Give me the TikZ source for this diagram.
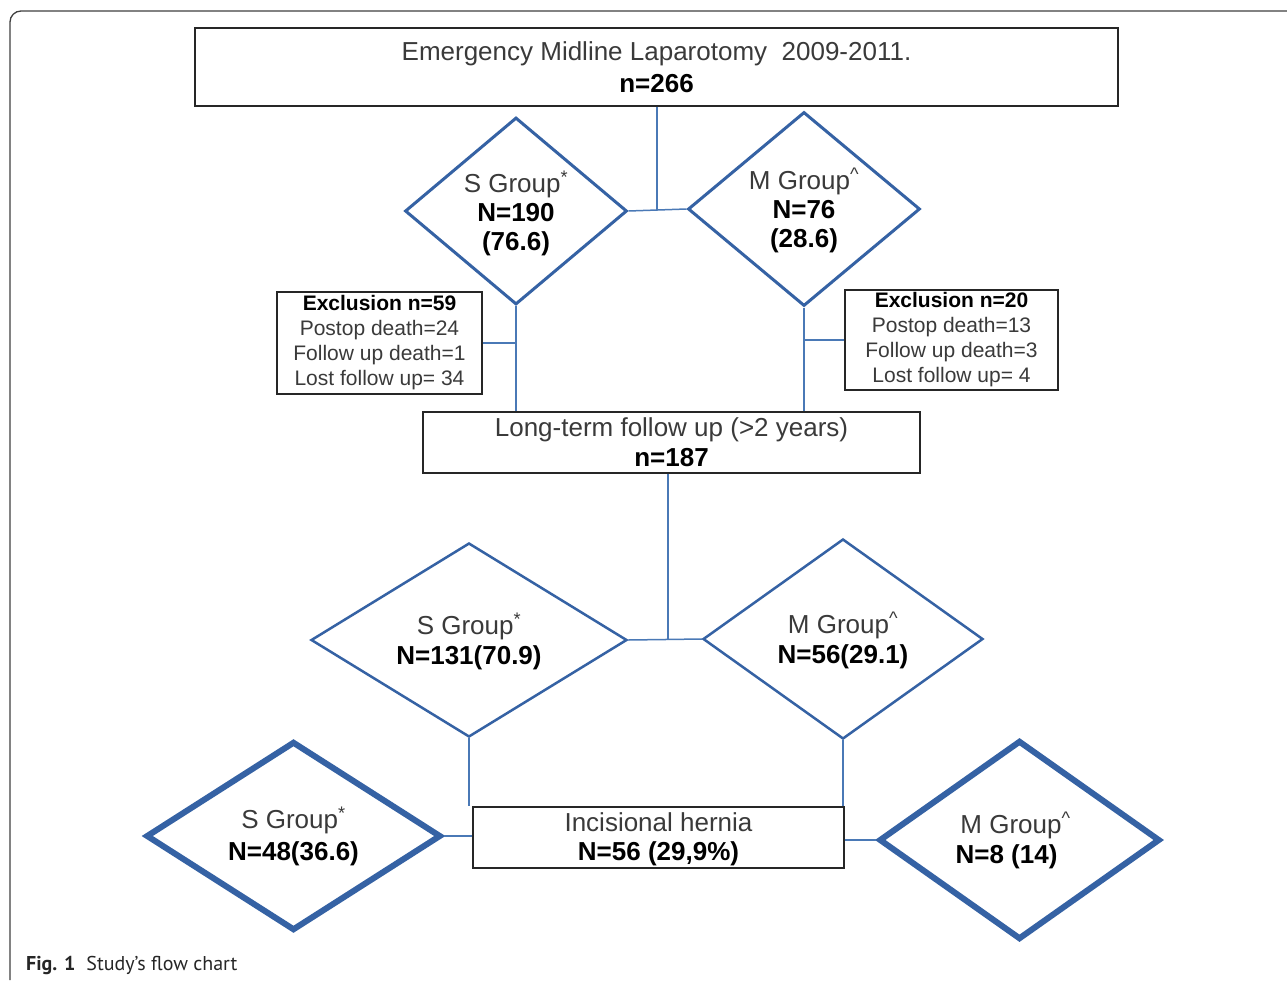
\documentclass[tikz,border=0pt]{standalone}
\usepackage{fontspec}
\setmainfont{Liberation Sans}
\newfontfamily\capfont{PT Sans}
\usetikzlibrary{shapes.geometric}
\definecolor{dblue}{HTML}{3562A4}
\definecolor{cblue}{HTML}{4A79B6}
\definecolor{tgray}{HTML}{3A3A3A}
\begin{document}
\begin{tikzpicture}[x=1pt,y=-1pt,
  box/.style={draw=black!85, line width=1.4pt, fill=white, inner sep=0pt, align=center, text=tgray},
  dia/.style={diamond, draw=dblue, inner sep=0pt, align=center, text=tgray},
  conn/.style={draw=cblue, line width=1.5pt},
  big/.style={font=\fontsize{26}{30}\selectfont},
  small/.style={font=\fontsize{21}{25}\selectfont},
  frame/.style={draw=black!75, line width=1.3pt, rounded corners=11pt}]
\useasboundingbox (0,0) rectangle (1287,980);
\fill[white] (0,0) rectangle (1287,980);
\draw[frame] (10,980) -- (10,11) -- (1287,11);

% boxes
\node[box, minimum width=923pt, minimum height=78pt, font=\fontsize{26}{32}\selectfont] (top) at (656.5,67)
  {Emergency Midline Laparotomy\ \ 2009-2011.\\\textcolor{black}{\textbf{n=266}}};
\node[box, small, minimum width=205pt, minimum height=102pt] (exL) at (379.5,343)
  {\textcolor{black}{\textbf{Exclusion n=59}}\\Postop death=24\\Follow up death=1\\Lost follow up= 34};
\node[box, small, minimum width=213pt, minimum height=100pt] (exR) at (951.5,340)
  {\textcolor{black}{\textbf{Exclusion n=20}}\\Postop death=13\\Follow up death=3\\Lost follow up= 4};
\node[box, big, minimum width=497pt, minimum height=61pt] (lt) at (671.5,442.5)
  {Long-term follow up (>2 years)\\\textcolor{black}{\textbf{n=187}}};
\node[box, font=\fontsize{26}{29}\selectfont, minimum width=371pt, minimum height=61pt] (ih) at (658.5,837.5)
  {\rule{0pt}{23pt}Incisional hernia\\\textcolor{black}{\textbf{N=56 (29,9\%)}}};

% diamonds
\node[dia, line width=3pt, shape aspect=1.19, minimum width=222pt, minimum height=187pt, font=\fontsize{26}{29}\selectfont] (s1) at (516,211)
  {\rule{0pt}{26pt}S Group\textsuperscript{*}\\\textcolor{black}{\textbf{N=190}}\\\textcolor{black}{\textbf{(76.6)}}};
\node[dia, line width=3pt, shape aspect=1.2, minimum width=232pt, minimum height=194pt, font=\fontsize{26}{29}\selectfont] (m1) at (804,209)
  {\rule{0pt}{25pt}M Group\textsuperscript{\textasciicircum}\\\textcolor{black}{\textbf{N=76}}\\\textcolor{black}{\textbf{(28.6)}}};
\node[dia, line width=2.5pt, shape aspect=1.63, minimum width=316pt, minimum height=194pt, font=\fontsize{26}{30}\selectfont] (s2) at (469,640)
  {\rule{0pt}{24pt}S Group\textsuperscript{*}\\\textcolor{black}{\textbf{N=131(70.9)}}};
\node[dia, line width=2.5pt, shape aspect=1.4, minimum width=280pt, minimum height=200pt, font=\fontsize{26}{30}\selectfont] (m2) at (843,639)
  {\rule{0pt}{24pt}M Group\textsuperscript{\textasciicircum}\\\textcolor{black}{\textbf{N=56(29.1)}}};
\node[dia, line width=6pt, shape aspect=1.56, minimum width=295pt, minimum height=189pt, font=\fontsize{26}{32}\selectfont] (s3) at (293.5,836)
  {\rule{0pt}{23pt}S Group\textsuperscript{*}\\\textcolor{black}{\textbf{N=48(36.6)}}};
\node[dia, line width=6pt, shape aspect=1.41, minimum width=281pt, minimum height=199pt, font=\fontsize{26}{30}\selectfont] (m3) at (1019.5,840)
  {M Group\textsuperscript{\textasciicircum}\hspace*{8pt}\\\textcolor{black}{\textbf{N=8 (14)}}\hspace*{26pt}};

% junctions
\coordinate (j1) at (657,210);
\coordinate (j2) at (668,639);

% connectors
\draw[conn] (top.south -| j1) -- (j1);
\draw[conn] (s1.east) -- (m1.west);
\draw[conn] (s1.south) -- (lt.north -| s1.south);
\draw[conn] (m1.south) -- (lt.north -| m1.south);
\draw[conn] (exL.east) -- (exL.east -| s1.south);
\draw[conn] (exR.west) -- (exR.west -| m1.south);
\draw[conn] (lt.south -| j2) -- (j2);
\draw[conn] (s2.east) -- (m2.west);
\draw[conn] (s2.south) -- (ih.north -| s2.south);
\draw[conn] (m2.south) -- (ih.north -| m2.south);
\draw[conn] (s3.east) -- (s3.east -| ih.west);
\draw[conn] (ih.east |- m3.west) -- (m3.west);

% caption
\node[anchor=base west, inner sep=0pt, text=black!85, font=\capfont\fontsize{20}{24}\selectfont] (cap) at (26,970)
  {\textbf{Fig. 1}\hspace{0.55em}Study’s flow chart};
\end{tikzpicture}
\end{document}
